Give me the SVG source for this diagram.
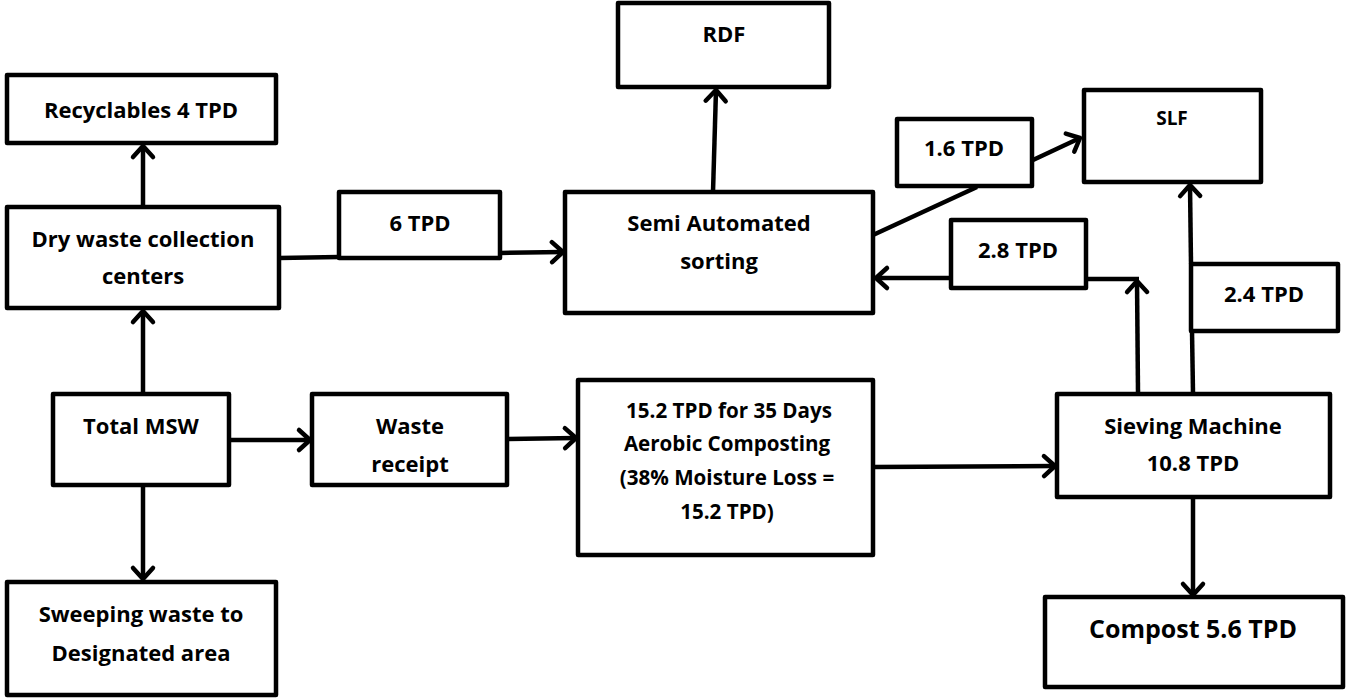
<svg xmlns="http://www.w3.org/2000/svg" width="1359" height="700" viewBox="0 0 1359 700">
<defs>
<style>
.box{fill:#fff;stroke:#000;stroke-width:4.5;stroke-linejoin:round}
.t{font-family:"Open Sans","Liberation Sans",sans-serif;font-weight:700;fill:#000;text-anchor:middle;dominant-baseline:central}
.s19{font-size:22px}
.s17{font-size:22px}
.s21{font-size:20.6px}
.s16{font-size:19px}
.s22{font-size:25px}
.c{fill:none;stroke:#000;stroke-width:4.5;stroke-linecap:butt}
.a{marker-end:url(#ah)}
</style>
<marker id="ah" markerUnits="userSpaceOnUse" markerWidth="30" markerHeight="30" viewBox="-15 -15 30 30" refX="0" refY="0" orient="auto" overflow="visible">
<path d="M-11,-10 L0,0 L-11,10" fill="none" stroke="#000" stroke-width="4.5" stroke-linecap="round" stroke-linejoin="round"/>
</marker>
</defs>
<rect width="1359" height="700" fill="#fff"/>
<g id="connectors">
<line class="c a" x1="143" y1="207" x2="143" y2="146"/>
<line class="c a" x1="143" y1="393" x2="143" y2="311"/>
<line class="c a" x1="143" y1="485" x2="143" y2="579"/>
<line class="c" x1="279" y1="258" x2="339" y2="257"/>
<line class="c a" x1="500" y1="253" x2="563" y2="252"/>
<line class="c a" x1="713" y1="192" x2="716" y2="90"/>
<line class="c" x1="873" y1="235" x2="977" y2="187"/>
<line class="c a" x1="1033" y1="160" x2="1080" y2="138"/>
<line class="c a" x1="1138" y1="393" x2="1137" y2="281"/>
<line class="c" x1="1139" y1="279" x2="1086" y2="279"/>
<line class="c a" x1="951" y1="278" x2="876" y2="278"/>
<line class="c" x1="1193" y1="393" x2="1192" y2="331"/>
<line class="c a" x1="1191" y1="264" x2="1190" y2="185"/>
<line class="c a" x1="229" y1="440" x2="310" y2="440"/>
<line class="c a" x1="507" y1="439" x2="576" y2="438"/>
<line class="c a" x1="873" y1="467" x2="1055" y2="466"/>
<line class="c a" x1="1193" y1="497" x2="1193" y2="595"/>
</g>
<g id="recyclables"><rect class="box" x="7" y="75" width="269" height="68"/><text class="t s19" x="141" y="109">Recyclables 4 TPD</text></g>
<g id="dry-waste"><rect class="box" x="7" y="207" width="272" height="101"/><text class="t s19" x="143" y="238">Dry waste collection</text><text class="t s19" x="143" y="275">centers</text></g>
<g id="tpd6"><rect class="box" x="339" y="192" width="161" height="66"/><text class="t s17" x="420" y="222">6 TPD</text></g>
<g id="semi"><rect class="box" x="565" y="192" width="308" height="121"/><text class="t s19" x="719" y="222">Semi Automated</text><text class="t s19" x="719" y="260">sorting</text></g>
<g id="rdf"><rect class="box" x="618" y="3" width="211" height="84"/><text class="t s17" x="724" y="33">RDF</text></g>
<g id="tpd16"><rect class="box" x="897" y="119" width="135" height="67"/><text class="t s17" x="964" y="147">1.6 TPD</text></g>
<g id="slf"><rect class="box" x="1084" y="90" width="177" height="92"/><text class="t s16" x="1172" y="118">SLF</text></g>
<g id="tpd28"><rect class="box" x="951" y="220" width="135" height="68"/><text class="t s17" x="1018" y="249">2.8 TPD</text></g>
<g id="tpd24"><rect class="box" x="1191" y="264" width="147" height="67"/><text class="t s17" x="1264" y="293">2.4 TPD</text></g>
<g id="total-msw"><rect class="box" x="53" y="394" width="176" height="91"/><text class="t s19" x="141" y="425">Total MSW</text></g>
<g id="waste-receipt"><rect class="box" x="312" y="394" width="195" height="91"/><text class="t s19" x="410" y="425">Waste</text><text class="t s19" x="410" y="463">receipt</text></g>
<g id="composting"><rect class="box" x="578" y="380" width="295" height="175"/><text class="t s21" x="729" y="410">15.2 TPD for 35 Days</text><text class="t s21" x="727" y="443">Aerobic Composting</text><text class="t s21" x="727" y="477">(38% Moisture Loss =</text><text class="t s21" x="727" y="511">15.2 TPD)</text></g>
<g id="sieving"><rect class="box" x="1057" y="394" width="273" height="103"/><text class="t s19" x="1193" y="425">Sieving Machine</text><text class="t s19" x="1193" y="462">10.8 TPD</text></g>
<g id="compost"><rect class="box" x="1045" y="597" width="298" height="90"/><text class="t s22" x="1193" y="628">Compost 5.6 TPD</text></g>
<g id="sweeping"><rect class="box" x="7" y="582" width="269" height="113"/><text class="t s19" x="141" y="613">Sweeping waste to</text><text class="t s19" x="141" y="652">Designated area</text></g>
</svg>
